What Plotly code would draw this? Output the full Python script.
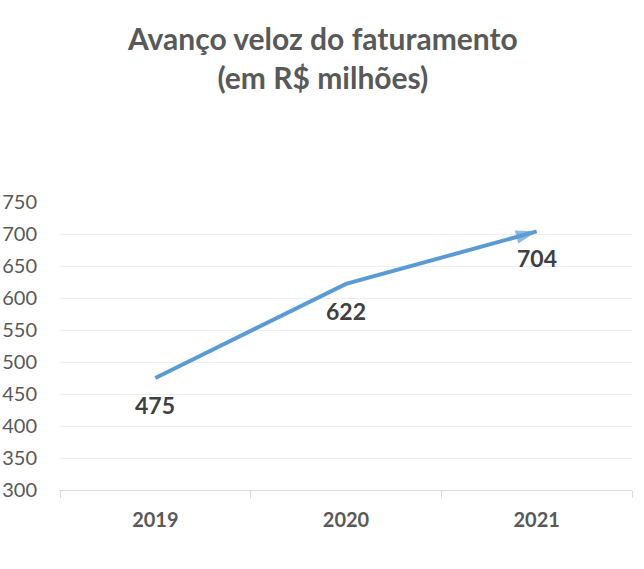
import plotly.graph_objects as go

years = ["2019", "2020", "2021"]
revenue = [475, 622, 704]
y_ticks = [300, 350, 400, 450, 500, 550, 600, 650, 700, 750]

FONT = "Lato, 'Open Sans', sans-serif"
PLOT_TOP, PLOT_BOTTOM = 202, 79
PLOT_H = 569 - PLOT_TOP - PLOT_BOTTOM

fig = go.Figure()
fig.add_trace(go.Scatter(
    x=years, y=revenue, mode="lines+markers",
    line=dict(color="#5b9bd5", width=4),
    marker=dict(symbol="arrow", angleref="previous",
                size=[0] * (len(years) - 1) + [22], color="#5b9bd5",
                line=dict(width=0)),
    hoverinfo="skip", showlegend=False,
))

for i, v in enumerate(revenue):
    fig.add_annotation(x=i, y=v, xref="x", yref="y", text=f"<b>{v}</b>",
                       showarrow=False, yshift=-27,
                       font=dict(family=FONT, size=23, color="#404040"))

fig.add_annotation(
    xref="paper", yref="paper", x=0.5 - (60 - 12) / 2 / 572, xanchor="center",
    y=1 + (PLOT_TOP - 18) / PLOT_H, yanchor="top",
    text="<b>Avanço veloz do faturamento<br>(em R$ milhões)</b>",
    showarrow=False, align="center",
    font=dict(family=FONT, size=30, color="#595959"),
)

fig.update_layout(
    width=644, height=569,
    margin=dict(l=60, r=12, t=PLOT_TOP, b=PLOT_BOTTOM),
    paper_bgcolor="white", plot_bgcolor="white",
    font=dict(family=FONT, color="#595959"),
)
fig.update_xaxes(
    type="category", range=[-0.5, 2.5], tickson="boundaries",
    ticks="outside", ticklen=7, tickcolor="#d9d9d9", tickwidth=1,
    showline=True, linecolor="#d9d9d9", linewidth=1,
    showgrid=False, ticklabelstandoff=12, automargin=False,
    tickvals=years, ticktext=[f"<b>{y}</b>" for y in years],
    tickfont=dict(family=FONT, size=20, color="#595959"),
)
fig.update_yaxes(
    range=[300, 750], tickvals=y_ticks, showgrid=True, gridcolor="#efefef",
    gridwidth=1, zeroline=False, showline=False, ticks="",
    ticklabelstandoff=22, automargin=False,
    tickfont=dict(family=FONT, size=20, color="#595959"),
)
fig.write_html("out.html")
